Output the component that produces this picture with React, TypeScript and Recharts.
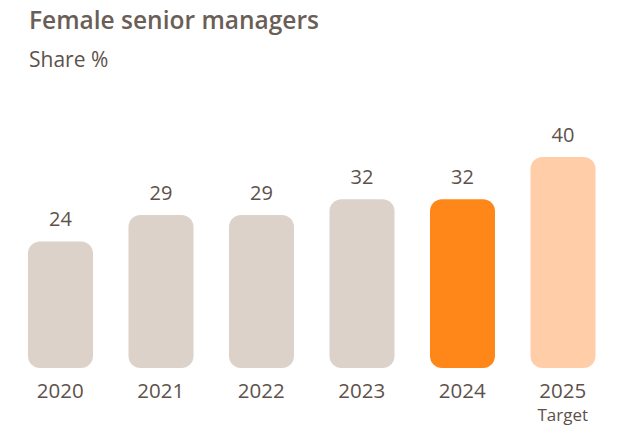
import React from "react";
import { BarChart, Bar, XAxis, YAxis, Cell, LabelList } from "recharts";

const categories = ["2020", "2021", "2022", "2023", "2024", "2025"];
const subLabels = ["", "", "", "", "", "Target"];
const shareValues = [24, 29, 29, 32, 32, 40];
const barColors = ["#dcd2c9", "#dcd2c9", "#dcd2c9", "#dcd2c9", "#ff8618", "#ffcda8"];

const data = categories.map((c, i) => ({ year: c, sub: subLabels[i], value: shareValues[i] }));

const FONT = "'Open Sans', 'Noto Sans', sans-serif";
const TEXT = "#5e514b";

const YearTick = (props: any) => {
  const { x, y, payload, index } = props;
  const sub = subLabels[index];
  return (
    <g>
      <text x={x} y={y + 22} textAnchor="middle" fill={TEXT} fontSize={20.5} fontFamily={FONT}>
        {payload.value}
      </text>
      {sub ? (
        <text x={x} y={y + 45} textAnchor="middle" fill={TEXT} fontSize={17} fontFamily={FONT}>
          {sub}
        </text>
      ) : null}
    </g>
  );
};

const ValueLabel = (props: any) => {
  const { x, y, width, value } = props;
  return (
    <text x={x + width / 2} y={y - 15} textAnchor="middle" fill={TEXT} fontSize={20} fontFamily={FONT}>
      {value}
    </text>
  );
};

export default function App() {
  return (
    <div style={{ position: "absolute", left: 0, top: 0, width: 617, height: 427, background: "#fff", fontFamily: FONT }}>
      <div style={{ position: "absolute", left: 29, top: 3, fontSize: 24.5, fontWeight: 600, color: "#6b5e57", whiteSpace: "nowrap" }}>
        Female senior managers
      </div>
      <div style={{ position: "absolute", left: 29, top: 45, fontSize: 21, color: TEXT, whiteSpace: "nowrap" }}>
        Share %
      </div>
      <BarChart width={617} height={427} data={data} margin={{ top: 157, right: 4, bottom: 0, left: 10 }}>
        <XAxis dataKey="year" axisLine={false} tickLine={false} height={59} interval={0} tick={<YearTick />} />
        <YAxis hide domain={[0, 40]} />
        <Bar dataKey="value" barSize={65} radius={[12, 12, 12, 12]} isAnimationActive={false}>
          {data.map((d, i) => (
            <Cell key={d.year} fill={barColors[i]} />
          ))}
          <LabelList dataKey="value" content={<ValueLabel />} />
        </Bar>
      </BarChart>
    </div>
  );
}
